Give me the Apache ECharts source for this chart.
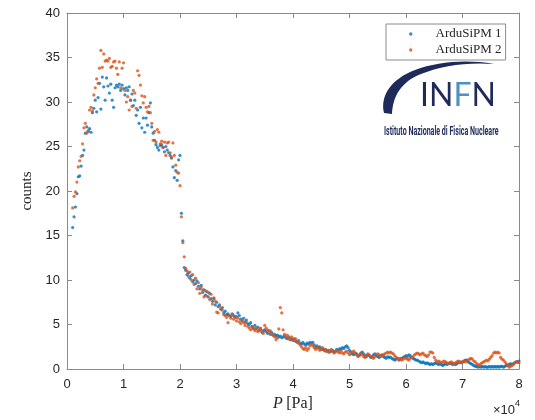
<!DOCTYPE html>
<html>
<head>
<meta charset="utf-8">
<script src="https://cdn.jsdelivr.net/npm/echarts@6/dist/echarts.min.js"></script>
<style>html,body{margin:0;padding:0;background:#fff;}#c{width:535px;height:420px;}</style>
</head>
<body>
<div id="c"></div>
<script>
// Pressure grid in kPa (axis shows Pa x10^4)
const P_kPa = [
1,1.25,1.5,1.75, 2,2.25,2.5,2.75, 3,3.25,3.5,3.75, 4,4.25,4.5,4.75, 5,5.25,5.5,5.75,
6,6.25,6.5,6.75, 7,7.25,7.5,7.75, 8,8.25,8.5,8.75, 9,9.25,9.5,9.75, 10,10.25,10.5,10.75,
11,11.25,11.5,11.75, 12,12.25,12.5,12.75, 13,13.25,13.5,13.75, 14,14.25,14.5,14.75, 15,15.25,15.5,15.75,
16,16.25,16.5,16.75, 17,17.25,17.5,17.75, 18,18.25,18.5,18.75, 19,19.25,19.5,19.75, 20,20.25,20.5,20.75,
21,21.25,21.5,21.75, 22,22.25,22.5,22.75, 23,23.25,23.5,23.75, 24,24.25,24.5,24.75, 25,25.25,25.5,25.75,
26,26.25,26.5,26.75, 27,27.25,27.5,27.75, 28,28.25,28.5,28.75, 29,29.25,29.5,29.75, 30,30.25,30.5,30.75,
31,31.25,31.5,31.75, 32,32.25,32.5,32.75, 33,33.25,33.5,33.75, 34,34.25,34.5,34.75, 35,35.25,35.5,35.75,
36,36.25,36.5,36.75, 37,37.25,37.5,37.75, 38,38.25,38.5,38.75, 39,39.25,39.5,39.75, 40,40.25,40.5,40.75,
41,41.25,41.5,41.75, 42,42.25,42.5,42.75, 43,43.25,43.5,43.75, 44,44.25,44.5,44.75, 45,45.25,45.5,45.75,
46,46.25,46.5,46.75, 47,47.25,47.5,47.75, 48,48.25,48.5,48.75, 49,49.25,49.5,49.75, 50,50.25,50.5,50.75,
51,51.25,51.5,51.75, 52,52.25,52.5,52.75, 53,53.25,53.5,53.75, 54,54.25,54.5,54.75, 55,55.25,55.5,55.75,
56,56.25,56.5,56.75, 57,57.25,57.5,57.75, 58,58.25,58.5,58.75, 59,59.25,59.5,59.75, 60,60.25,60.5,60.75,
61,61.25,61.5,61.75, 62,62.25,62.5,62.75, 63,63.25,63.5,63.75, 64,64.25,64.5,64.75, 65,65.25,65.5,65.75,
66,66.25,66.5,66.75, 67,67.25,67.5,67.75, 68,68.25,68.5,68.75, 69,69.25,69.5,69.75, 70,70.25,70.5,70.75,
71,71.25,71.5,71.75, 72,72.25,72.5,72.75, 73,73.25,73.5,73.75, 74,74.25,74.5,74.75, 75,75.25,75.5,75.75,
76,76.25,76.5,76.75, 77,77.25,77.5,77.75, 78,78.25,78.5,78.75, 79,79.25,79.5,79.75, 80
];
const counts1 = [
15.9,17.1,18.2,19.7, 21.6,21.7,22.8,24.0, 24.6,26.5,27.2,26.7, 27.0,26.6,28.8,29.3, 30.2,28.9,30.5,32.1,
29.2,32.8,31.7,30.2, 32.7,31.8,31.0,32.0, 30.2,29.4,31.6,31.9, 31.7,32.0,31.3,31.9, 31.5,30.8,31.6,31.3,
31.7,30.2,30.9,29.6, 30.2,28.5,29.1,27.6, 29.4,27.1,28.2,26.6, 28.2,27.4,28.8,29.9, 27.2,26.5,25.7,25.2,
24.9,24.6,25.1,25.2, 24.9,24.4,25.0,24.6, 24.3,24.0,23.7,22.7, 21.5,22.3,21.2,23.5, 24.0,17.5,14.4,11.4,
11.1,10.6,10.8,10.2, 10.5,9.8,10.0,9.6, 9.9,9.3,9.0,9.4, 8.6,8.9,8.3,8.7, 8.1,8.5,7.9,7.6,
7.9,7.2,7.5,7.0, 7.2,6.7,6.9,6.3, 6.5,6.1,6.2,6.0, 5.9,6.2,6.0,5.8, 5.9,6.3,6.0,5.6,
5.4,5.7,5.3,5.5, 5.1,5.0,5.2,4.8, 4.6,4.9,4.5,4.7, 4.3,4.5,4.1,4.3, 4.4,4.2,4.0,4.3,
3.9,4.1,3.8,3.9, 3.7,3.8,3.6,3.7, 3.5,3.6,3.7,3.5, 3.4,3.6,3.3,3.4, 3.2,3.4,3.1,3.0,
3.2,2.9,2.8,3.0, 2.8,2.7,2.9,2.8, 3.0,2.9,3.0,2.7, 2.5,2.6,2.4,2.5, 2.3,2.2,2.1,2.2,
2.0,2.1,1.9,2.0, 2.1,1.9,2.0,2.2, 2.1,2.3,2.2,2.4, 2.3,2.5,2.6,2.4, 2.1,1.9,1.7,1.6,
1.8,1.7,1.5,1.6, 1.8,1.9,1.7,1.5, 1.4,1.6,1.5,1.3, 1.4,1.6,1.7,1.5, 1.4,1.3,1.5,1.6,
1.4,1.3,1.2,1.4, 1.3,1.35,1.2,1.1, 1.0,1.1,1.2,1.0, 1.1,1.2,1.3,1.4, 1.5,1.4,1.6,1.5,
1.3,1.2,1.1,1.0, 1.0,0.9,0.8,0.7, 0.8,0.7,0.6,0.7, 0.6,0.5,0.6,0.5, 0.6,0.7,0.6,0.5,
0.6,0.5,0.4,0.5, 0.6,0.5,0.6,0.7, 0.6,0.5,0.6,0.5, 0.6,0.7,0.8,0.7, 0.8,0.9,1.0,1.0,
0.8,0.7,0.6,0.5, 0.4,0.3,0.3,0.2, 0.3,0.2,0.3,0.2, 0.3,0.2,0.2,0.3, 0.2,0.3,0.2,0.3,
0.2,0.3,0.2,0.3, 0.3,0.2,0.3,0.4, 0.4,0.5,0.6,0.5, 0.6,0.7,0.8,0.8, 0.9
];
const counts2 = [
18.1,19.4,19.9,21.0, 22.7,23.4,23.9,25.3, 27.1,27.6,26.5,26.8, 29.1,29.4,29.0,30.8, 31.6,32.6,32.1,33.8,
35.8,33.9,35.4,34.6, 34.7,34.6,34.9,33.9, 34.0,34.5,34.6,33.8, 33.1,34.5,31.6,33.8, 34.4,31.3,30.0,30.6,
29.1,30.2,29.5,31.3, 31.0,29.3,33.5,33.0, 31.9,30.7,29.9,30.6, 29.4,28.9,29.5,28.8, 27.6,25.7,26.7,25.5,
26.9,26.6,25.3,25.6, 24.9,25.5,24.0,25.4, 25.5,24.3,23.8,25.4, 24.0,22.9,22.1,22.0, 20.6,17.1,14.2,12.6,
11.3,11.0,10.4,10.9, 10.0,10.6,9.5,10.2, 9.0,9.7,8.5,9.2, 8.9,8.1,8.8,8.2, 8.6,7.8,8.4,7.3,
8.0,7.6,6.4,6.3, 7.1,6.8,6.6,6.1, 6.0,5.8,5.2,6.0, 5.7,6.1,5.6,5.9, 5.4,5.7,5.3,5.1,
5.5,5.2,4.9,5.2, 4.8,4.6,4.4,4.7, 4.5,4.3,4.6,4.2, 4.4,4.6,4.3,4.0, 4.9,4.6,4.4,4.1,
4.3,3.9,3.8,3.6, 3.3,3.5,4.5,6.9, 6.3,4.4,3.9,3.6, 3.8,3.5,3.3,3.6, 3.4,3.2,3.4,3.1,
2.9,2.7,2.5,2.3, 2.2,2.4,2.1,2.3, 2.6,2.8,2.6,2.4, 2.2,2.4,2.3,2.1, 2.2,2.4,2.2,2.0,
2.1,1.9,2.0,2.2, 2.0,1.8,1.9,2.1, 1.9,1.8,2.0,1.8, 1.7,1.9,2.0,1.8, 1.6,1.7,1.9,2.0,
1.8,1.6,1.4,1.5, 1.7,1.6,1.4,1.3, 1.5,1.7,1.6,1.4, 1.3,1.2,1.4,1.6, 1.7,1.6,1.4,1.5,
1.6,1.7,1.8,1.9, 1.8,1.9,1.8,1.7, 1.5,1.3,1.2,1.1, 1.2,1.0,1.1,1.3, 1.2,1.1,1.0,1.2,
1.3,1.4,1.6,1.7, 1.8,1.7,1.6,1.7, 1.8,1.6,1.5,1.4, 1.6,1.9,1.9,1.8, 1.3,1.0,0.8,0.9,
0.8,0.7,0.8,0.9, 0.8,0.7,0.6,0.7, 0.8,0.7,0.6,0.7, 0.8,0.9,0.8,0.7, 0.8,0.9,0.8,0.9,
1.0,1.1,1.2,1.1, 0.9,0.8,0.6,0.5, 0.4,0.6,0.7,0.8, 0.9,1.0,0.9,1.1, 1.3,1.5,1.8,1.9,
1.8,1.9,1.8,1.3, 1.1,1.0,0.8,0.6, 0.4,0.2,0.3,0.4, 0.5,0.7,0.8,0.8, 0.7
];
const seriesNames = ['ArduSiPM 1', 'ArduSiPM 2'];
const xTickLabels = ['0','1','2','3','4','5','6','7','8'];
const yTickLabels = ['0','5','10','15','20','25','30','35','40'];

const AX = '#8a8a8a', TXT = '#262626';
const SANS = 'Liberation Sans', SERIF = 'Liberation Serif';

// INFN logo swoosh as an inline SVG image (decoration only)
const swooshSvg = '<svg xmlns="http://www.w3.org/2000/svg" width="120" height="65" viewBox="380 55 120 65">' +
  '<path d="M384 113 C380 96 391 79 415 70 C437 62 465 59 494 64 C466 62 441 66 421 74 C401 82 393 96 392 114 Z" fill="#1e2a5a"/></svg>';
const swooshUri = 'data:image/svg+xml;charset=utf-8,' + encodeURIComponent(swooshSvg);

const chart = echarts.init(document.getElementById('c'), null, {renderer: 'canvas'});
const baseX = {
  type: 'value', min: 0, max: 80, interval: 10,
  axisLine: {show: true, onZero: false, lineStyle: {color: AX, width: 1}},
  axisTick: {show: true, inside: true, length: 5, lineStyle: {color: AX}},
  splitLine: {show: false}
};
const baseY = {
  type: 'value', min: 0, max: 40, interval: 5,
  axisLine: {show: true, onZero: false, lineStyle: {color: AX, width: 1}},
  axisTick: {show: true, inside: true, length: 5, lineStyle: {color: AX}},
  splitLine: {show: false}
};
chart.setOption({
  animation: false,
  backgroundColor: '#fff',
  grid: {left: 67, right: 16, top: 13, bottom: 51, containLabel: false},
  xAxis: [
    Object.assign({}, baseX, {
      position: 'bottom',
      axisLabel: {color: TXT, fontFamily: SANS, fontSize: 13, margin: 9,
        formatter: v => xTickLabels[Math.round(v / 10)]},
      name: '{i|P} {r|[Pa]}', nameLocation: 'middle', nameGap: 23,
      nameTextStyle: {rich: {
        i: {fontFamily: SERIF, fontStyle: 'italic', fontSize: 16, color: TXT},
        r: {fontFamily: SERIF, fontSize: 16, color: TXT}
      }}
    }),
    Object.assign({}, baseX, {position: 'top', axisLabel: {show: false}})
  ],
  yAxis: [
    Object.assign({}, baseY, {
      position: 'left',
      axisLabel: {color: TXT, fontFamily: SANS, fontSize: 13, margin: 7,
        formatter: v => yTickLabels[Math.round(v / 5)]},
      name: 'counts', nameLocation: 'middle', nameGap: 27,
      nameTextStyle: {fontFamily: SERIF, fontSize: 15, color: TXT}
    }),
    Object.assign({}, baseY, {position: 'right', axisLabel: {show: false}})
  ],
  legend: {
    orient: 'vertical', left: 386, top: 24,
    backgroundColor: '#fff', borderColor: AX, borderWidth: 1, borderRadius: 0,
    padding: [3, 4, 3, 23], itemWidth: 3.5, itemHeight: 3.5, itemGap: 2,
    icon: 'circle',
    textStyle: {fontFamily: SERIF, fontSize: 13, color: TXT, lineHeight: 14, padding: [0, 0, 0, 18]},
    data: seriesNames
  },
  series: [
    {name: seriesNames[0], type: 'scatter', symbol: 'circle', symbolSize: 3.2,
     itemStyle: {color: '#0072BD'}, data: P_kPa.map((p, i) => [p, counts1[i]])},
    {name: seriesNames[1], type: 'scatter', symbol: 'circle', symbolSize: 3.2,
     itemStyle: {color: '#D95319'}, data: P_kPa.map((p, i) => [p, counts2[i]])}
  ],
  graphic: [
    {type: 'image', z: 100, left: 380, top: 55,
     style: {image: swooshUri, width: 120, height: 65}},
    {type: 'text', z: 100, x: 420, y: 96,
     style: {text: '{a|IN}{b|F}{a|N}', verticalAlign: 'middle', textAlign: 'left',
       rich: {
         a: {fill: '#1e2a5a', fontSize: 32, fontFamily: 'Lato'},
         b: {fill: '#4a92c6', fontSize: 32, fontFamily: 'Lato'}
       }}},
    {type: 'text', z: 100, x: 384, y: 132, scaleX: 0.59,
     style: {text: 'Istituto Nazionale di Fisica Nucleare', fill: '#1e2a5a',
       fontSize: 12, fontFamily: 'Roboto', fontWeight: 'bold', verticalAlign: 'middle', textAlign: 'left'}},
    {type: 'text', z: 100, x: 520, y: 408,
     style: {text: '{a|×10}{b|4}', textAlign: 'right', verticalAlign: 'middle',
       rich: {
         a: {fill: TXT, fontSize: 13, fontFamily: SANS, lineHeight: 18, verticalAlign: 'bottom'},
         b: {fill: TXT, fontSize: 9, fontFamily: SANS, lineHeight: 18, verticalAlign: 'top'}
       }}}
  ]
});
</script>
</body>
</html>
